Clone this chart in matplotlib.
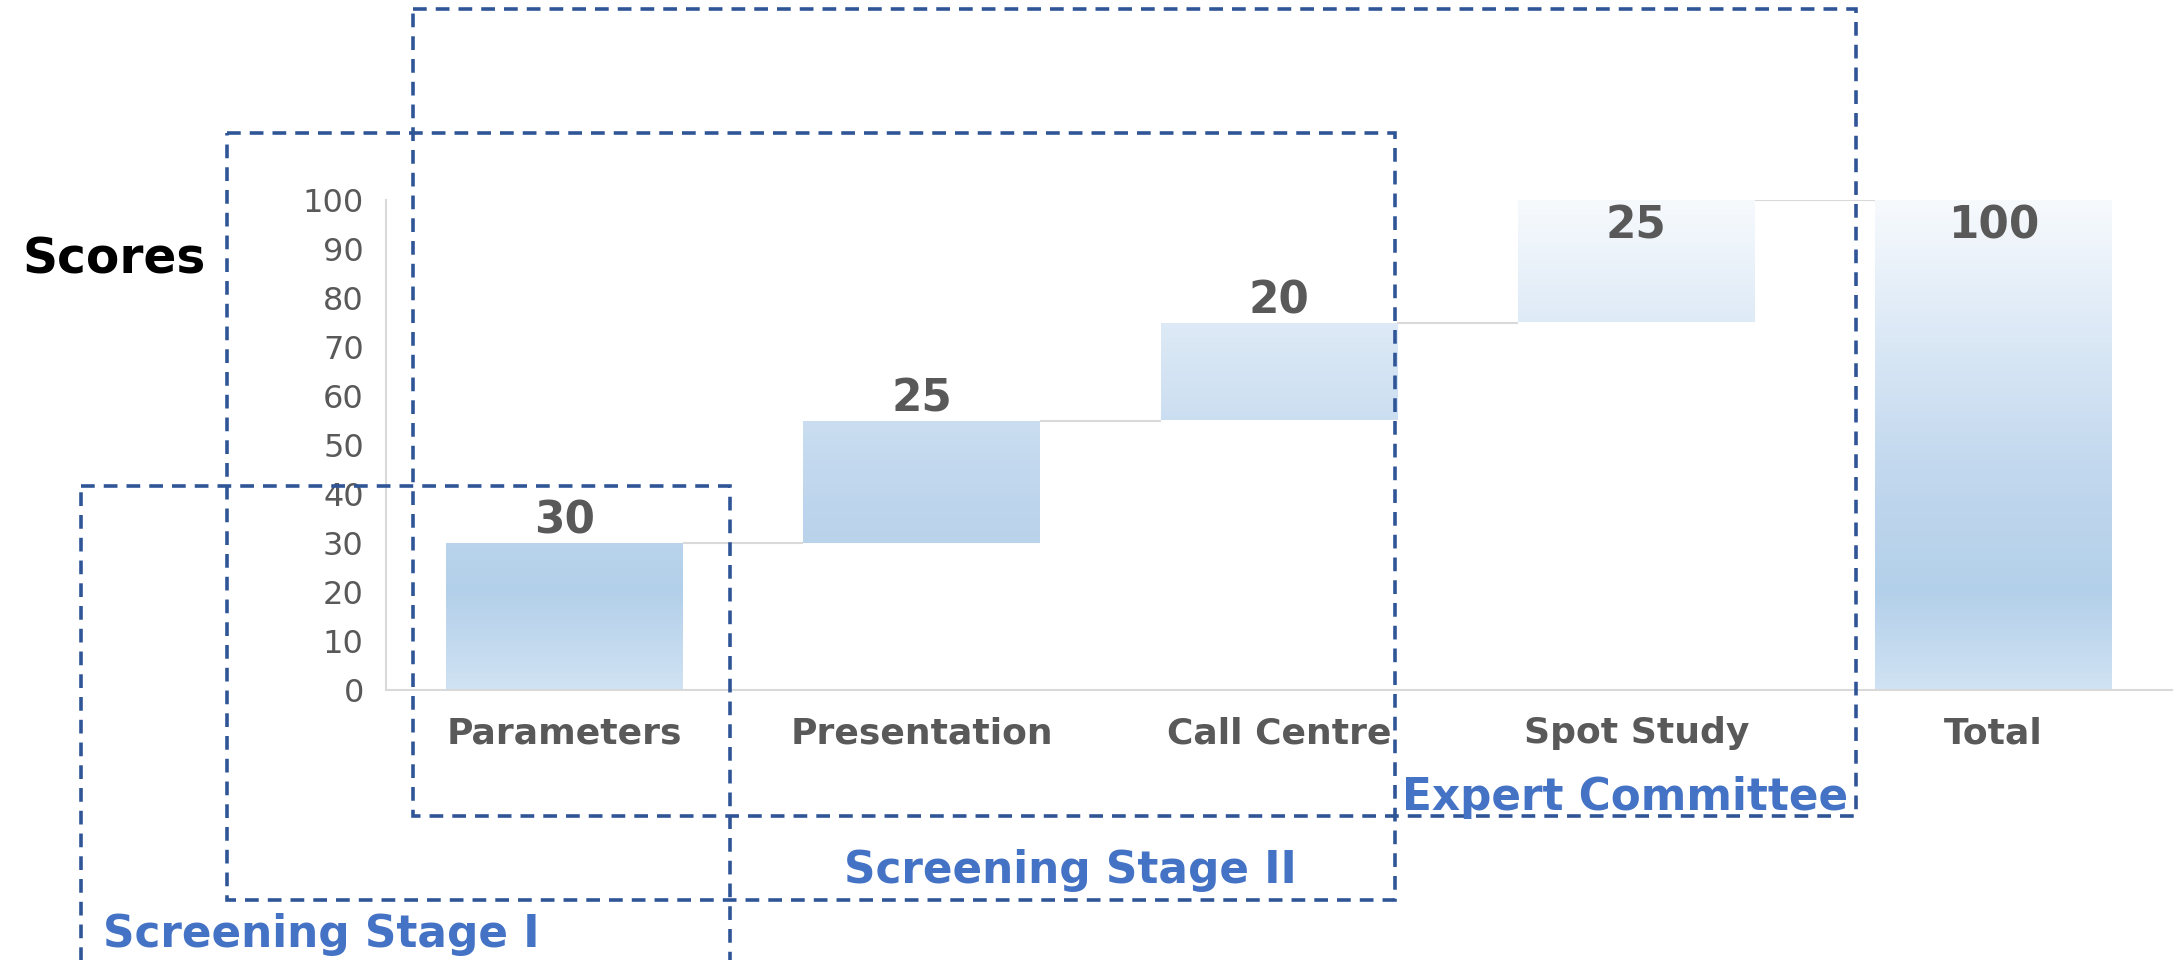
import numpy as np
import matplotlib
matplotlib.use("Agg")
import matplotlib.pyplot as plt
from matplotlib.colors import LinearSegmentedColormap
from matplotlib.patches import Rectangle

# Datos del gráfico (cascada de puntajes)
categories = ["Parameters", "Presentation", "Call Centre", "Spot Study", "Total"]
scores = [30, 25, 20, 25, 100]
is_total = [False, False, False, False, True]
y_ticks = [0, 10, 20, 30, 40, 50, 60, 70, 80, 90, 100]
stage_names = ["Screening Stage I", "Screening Stage II", "Expert Committee"]

# Estilo
GRAY = "#595959"
LINE = "#D9D9D9"
DASH = "#2F5597"
BLUE = "#4472C4"
FONT = "DejaVu Sans"
plt.rcParams["font.family"] = [FONT]

grad_cmap = LinearSegmentedColormap.from_list(
    "bars", [(0.0, "#D0E2F3"), (0.2, "#B3D0EA"), (0.45, "#C2D8EE"),
             (0.7, "#D9E7F5"), (1.0, "#F7FAFD")])

W, H = 2175, 960
fig = plt.figure(figsize=(W / 100, H / 100), dpi=100)
ax = fig.add_axes([386 / W, 1 - 690 / H, (2172 - 386) / W, 490 / H])

# Bases de la cascada
bottoms = []
run = 0
for s, tot in zip(scores, is_total):
    if tot:
        bottoms.append(0)
        run = s
    else:
        bottoms.append(run)
        run += s
tops = [b + s for b, s in zip(bottoms, scores)]

x = np.arange(len(categories))
bw = 0.663
bars = ax.bar(x, scores, bottom=bottoms, width=bw, color="none", edgecolor="none")

# Relleno degradado vertical, recortado a cada barra
ramp = np.linspace(0, 1, 256).reshape(-1, 1)
for xi, rect in zip(x, bars):
    im = ax.imshow(ramp, extent=(xi - bw / 2, xi + bw / 2, 0, 100), origin="lower",
                   aspect="auto", cmap=grad_cmap, vmin=0, vmax=1,
                   interpolation="bilinear", zorder=1)
    im.set_clip_path(rect)

# Líneas conectoras
for i in range(len(categories) - 1):
    level = tops[i]
    ax.plot([x[i] + bw / 2, x[i + 1] - bw / 2], [level, level], color=LINE,
            lw=1.5, zorder=2, solid_capstyle="butt")

# Etiquetas de valores
for xi, s, top in zip(x, scores, tops):
    if top >= 100:
        ax.annotate(str(s), (xi, top), xytext=(0, -27.4), textcoords="offset points",
                    ha="center", va="baseline", fontsize=31.5, weight="bold", color=GRAY)
    else:
        ax.annotate(str(s), (xi, top), xytext=(0, 6.5), textcoords="offset points",
                    ha="center", va="baseline", fontsize=31.5, weight="bold", color=GRAY)

ax.set_xlim(-0.5, len(categories) - 0.5)
ax.set_ylim(0, 100)
ax.set_yticks(y_ticks)
ax.set_xticks(x, categories)
ax.tick_params(axis="y", length=0, pad=16, labelsize=23, labelcolor=GRAY)
ax.tick_params(axis="x", length=0, pad=19, labelsize=26, labelcolor=GRAY)
for lbl in ax.get_xticklabels():
    lbl.set_fontweight("bold")
for sp in ["top", "right"]:
    ax.spines[sp].set_visible(False)
for sp in ["left", "bottom"]:
    ax.spines[sp].set_color(LINE)
    ax.spines[sp].set_linewidth(1.5)

fig.text(114 / W, 1 - 273 / H, "Scores", ha="center", va="baseline",
         fontsize=35, weight="bold", color="black")

# Capa superior en píxeles para los recuadros punteados
ov = fig.add_axes([0, 0, 1, 1], zorder=5)
ov.set_xlim(0, W)
ov.set_ylim(H, 0)
ov.axis("off")
ov.patch.set_visible(False)

boxes = [(81, 486, 730, 980), (227, 133, 1395, 900), (413, 9, 1856, 816)]
label_pos = [(321, 947), (1070, 883), (1625, 810)]
for (x0, y0, x1, y1), name, (tx, ty) in zip(boxes, stage_names, label_pos):
    ov.add_patch(Rectangle((x0, y0), x1 - x0, y1 - y0, fill=False, edgecolor=DASH,
                           lw=2.6, linestyle=(0, (3.8, 2.5))))
    ov.text(tx, ty, name, ha="center", va="baseline", fontsize=31.5,
            weight="bold", color=BLUE)

fig.savefig("out.png", dpi=100)
